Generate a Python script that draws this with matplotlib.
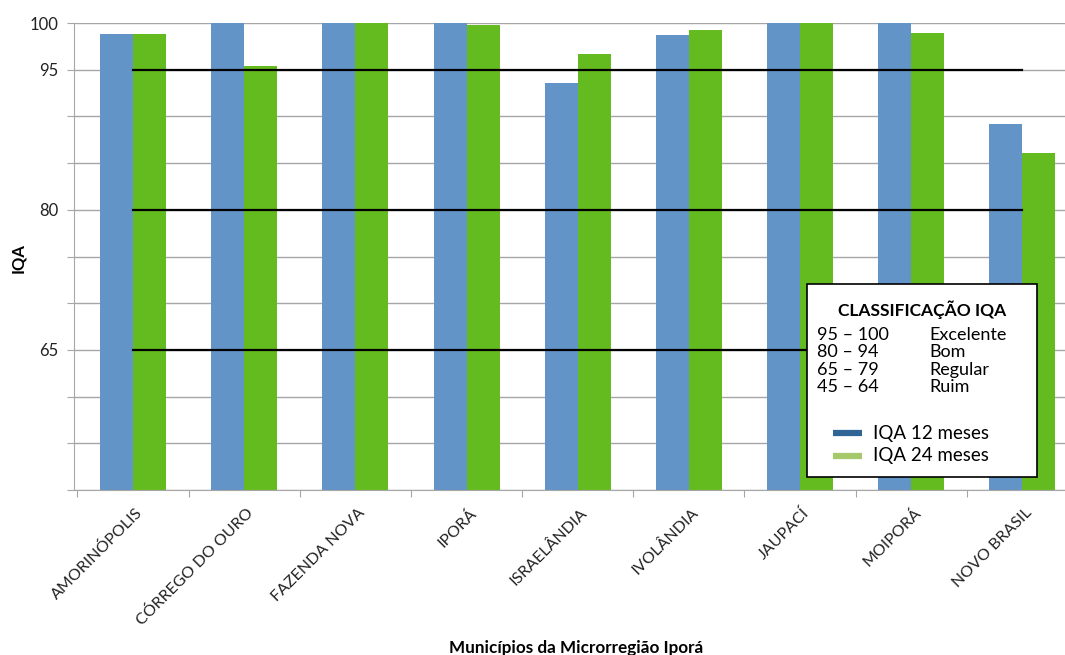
import matplotlib
matplotlib.use("Agg")
import matplotlib.pyplot as plt
from matplotlib.lines import Line2D
from matplotlib.patches import Rectangle
import numpy as np

plt.rcParams['font.family'] = ['Lato', 'DejaVu Sans']

municipios = ["AMORINÓPOLIS", "CÓRREGO DO OURO", "FAZENDA NOVA", "IPORÁ",
              "ISRAELÂNDIA", "IVOLÂNDIA", "JAUPACÍ", "MOIPORÁ", "NOVO BRASIL"]
iqa_12 = [98.8, 100.0, 100.0, 100.0, 93.6, 98.75, 100.0, 100.0, 89.2]
iqa_24 = [98.8, 95.4, 100.0, 99.8, 96.7, 99.3, 100.0, 98.9, 86.05]
limites = [95, 80, 65]
yticks_lbl = [100, 95, 80, 65]
classes = [("95 – 100", "Excelente"), ("80 – 94", "Bom"),
           ("65 – 79", "Regular"), ("45 – 64", "Ruim")]
series_names = ["IQA 12 meses", "IQA 24 meses"]

W, H = 1065, 655
fig = plt.figure(figsize=(W / 100, H / 100), dpi=100)

def fx(px):
    return px / W

def fy(py):
    return 1 - py / H

left, right, top, bottom = 74, 1078, 23, 490
ax = fig.add_axes([fx(left), fy(bottom), fx(right - left), (bottom - top) / H])

blue = "#6394C8"
green = "#64BB1F"
x = np.arange(len(municipios))
bw = 0.297
ax.bar(x - bw / 2, iqa_12, width=bw, color=blue, zorder=2)
ax.bar(x + bw / 2, iqa_24, width=bw, color=green, zorder=2)

for lim in limites:
    ax.plot([x[0], x[-1]], [lim, lim], color="black", lw=1.6, zorder=3)

ax.set_xlim(-0.531, len(municipios) - 0.5)
ax.set_ylim(50, 100)
ax.set_yticks(np.arange(50, 101, 5))
ax.set_yticklabels([str(v) if v in yticks_lbl else "" for v in range(50, 101, 5)],
                   fontsize=12, color="#222222")
ax.yaxis.grid(True, color="#A6A6A6", lw=1, zorder=0)
ax.set_axisbelow(True)
ax.tick_params(axis="y", length=5, color="#A6A6A6", pad=6)
ax.set_xticks(np.arange(-0.5, len(municipios), 1), minor=False)
ax.set_xticklabels([])
ax.tick_params(axis="x", length=5, color="#A6A6A6", direction="out")
for s in ["top", "right"]:
    ax.spines[s].set_visible(False)
ax.spines["left"].set_color("#A6A6A6")
ax.spines["bottom"].set_color("#A6A6A6")

for i, name in enumerate(municipios):
    ax.text(i + 0.02, 48.3, name, rotation=45, ha="right", va="top",
            rotation_mode="anchor", fontsize=11.5, color="#222222")

fig.text(fx(18), fy(258), "IQA", rotation=90, ha="center", va="center",
         fontsize=12, fontweight="bold")
fig.text(fx(576), fy(648), "Municípios da Microrregião Iporá", ha="center",
         va="center", fontsize=12.3, fontweight="bold")

# classification box
bx0, by0, bx1, by1 = 807, 284, 1037, 477
fig.add_artist(Rectangle((fx(bx0), fy(by1)), fx(bx1 - bx0), (by1 - by0) / H,
                         transform=fig.transFigure, facecolor="white",
                         edgecolor="black", lw=1.2, zorder=5))
fig.text(fx(922), fy(310), "CLASSIFICAÇÃO IQA", ha="center", va="center",
         fontsize=12.5, fontweight="bold", zorder=6)
for k, (faixa, nome) in enumerate(classes):
    yy = 335 + k * 17.5
    fig.text(fx(817), fy(yy), faixa, ha="left", va="center", fontsize=13,
             zorder=6, linespacing=1.0)
    fig.text(fx(929), fy(yy), nome, ha="left", va="center", fontsize=13,
             zorder=6, linespacing=1.0)

# series keys
key_colors = ["#2F6496", "#A5C96A"]
for k, (nm, kc) in enumerate(zip(series_names, key_colors)):
    yy = 433 + k * 23
    fig.add_artist(Line2D([fx(833), fx(862)], [fy(yy), fy(yy)], color=kc,
                          lw=4.5, solid_capstyle="butt",
                          transform=fig.transFigure, zorder=6))
    fig.text(fx(873), fy(yy), nm, ha="left", va="center", fontsize=13.5,
             zorder=6)

fig.savefig("out.png", dpi=100)
